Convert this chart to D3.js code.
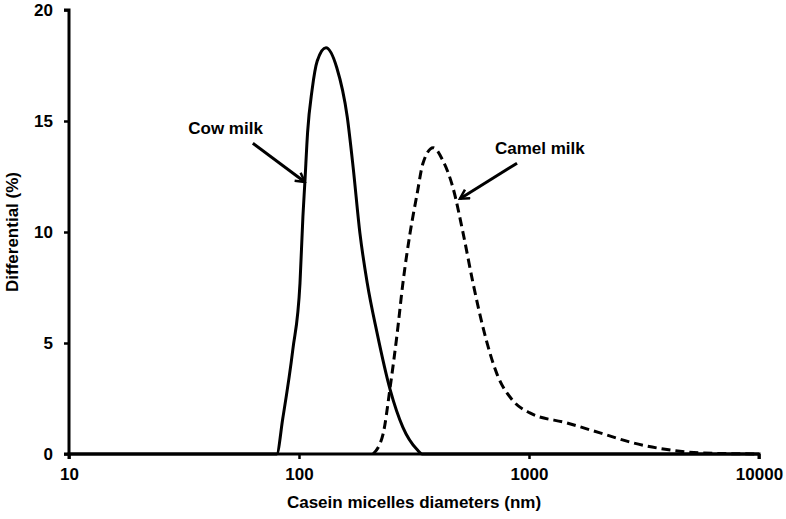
<!DOCTYPE html>
<html>
<head>
<meta charset="utf-8">
<script src="https://cdn.jsdelivr.net/npm/d3@7"></script>
<style>
  body { margin: 0; background: #fff; }
  text { font-family: "Liberation Sans", Arial, sans-serif; font-weight: bold; fill: #000; }
</style>
</head>
<body>
<svg id="chart" width="786" height="519"></svg>
<script>
// diameters (nm) and differential (%)
var cowSize  = [10, 80, 85, 94, 101, 104, 106, 109, 114, 120, 131, 146, 162, 172, 184, 198, 218, 249, 283, 326, 343, 10000];
var cowDiff  = [0, 0, 1.6, 4.7, 7.7, 10.7, 12.2, 14.5, 16.4, 17.7, 18.3, 17.4, 15.2, 12.9, 9.95, 7.7, 5.5, 2.9, 1.2, 0.2, 0, 0];

var camelSize = [210, 232, 249, 267, 283, 304, 326, 346, 383, 423, 467, 517, 571, 631, 726, 852, 1009, 1462, 2036, 2833, 3981, 5535, 9910];
var camelDiff = [0, 0.9, 3.0, 5.4, 7.7, 9.95, 11.7, 13.1, 13.8, 13.2, 12.0, 9.95, 7.7, 5.7, 3.6, 2.4, 1.85, 1.4, 0.95, 0.5, 0.2, 0.05, 0];

var xTicks = [10, 100, 1000, 10000];
var yTicks = [0, 5, 10, 15, 20];

var svg = d3.select('#chart');

var x = d3.scaleLog().domain([10, 10000]).range([69, 759]);
var y = d3.scaleLinear().domain([0, 20]).range([454, 10]);

var line = d3.line()
    .x(function(d) { return x(d[0]); })
    .y(function(d) { return y(d[1]); })
    .curve(d3.curveMonotoneX);

var cow = cowSize.map(function(s, i) { return [s, cowDiff[i]]; });
var camel = camelSize.map(function(s, i) { return [s, camelDiff[i]]; });

svg.append('path')
    .datum(cow)
    .attr('d', line)
    .attr('fill', 'none')
    .attr('stroke', '#000')
    .attr('stroke-width', 3);

svg.append('path')
    .datum(camel)
    .attr('d', line)
    .attr('fill', 'none')
    .attr('stroke', '#000')
    .attr('stroke-width', 3)
    .attr('stroke-dasharray', '9,5');

// axes
var xAxis = svg.append('g')
    .attr('transform', 'translate(0,' + y(0) + ')')
    .call(d3.axisBottom(x).tickValues(xTicks).tickFormat(d3.format('d')).tickSize(5).tickPadding(9));

var yAxis = svg.append('g')
    .attr('transform', 'translate(' + x(10) + ',0)')
    .call(d3.axisLeft(y).tickValues(yTicks).tickSize(5).tickPadding(11));

svg.selectAll('.domain').attr('stroke', '#000').attr('stroke-width', 3);
svg.selectAll('.tick line').attr('stroke', '#000').attr('stroke-width', 2.5);
svg.selectAll('.tick text').style('font-size', '17px').style('font-family', '"Liberation Sans", Arial, sans-serif').style('font-weight', 'bold');

xAxis.select('.domain').attr('d', 'M' + x(10) + ',5V0H' + x(10000) + 'V5');
yAxis.select('.domain').attr('d', 'M-5,' + y(20) + 'H0V' + y(0) + 'H-5');

svg.append('text')
    .attr('x', (x(10) + x(10000)) / 2)
    .attr('y', 508)
    .attr('text-anchor', 'middle')
    .style('font-size', '17px')
    .text('Casein micelles diameters (nm)');

svg.append('text')
    .attr('transform', 'translate(18,' + (y(0) + y(20)) / 2 + ') rotate(-90)')
    .attr('text-anchor', 'middle')
    .style('font-size', '17px')
    .text('Differential (%)');

// arrows
svg.append('defs').append('marker')
    .attr('id', 'arrow')
    .attr('viewBox', '0 0 12 12')
    .attr('refX', 10)
    .attr('refY', 6)
    .attr('markerWidth', 12)
    .attr('markerHeight', 12)
    .attr('markerUnits', 'userSpaceOnUse')
    .attr('orient', 'auto')
    .append('path')
    .attr('d', 'M1,1L10,6L1,11')
    .attr('fill', 'none')
    .attr('stroke', '#000')
    .attr('stroke-width', 2.5);

var labels = [
    {name: 'Cow milk', tx: 33, ty: 14.4, from: [63, 14.0], to: [106, 12.25]},
    {name: 'Camel milk', tx: 711, ty: 13.5, from: [887, 13.1], to: [501, 11.5]}
];

labels.forEach(function(l) {
    svg.append('line')
        .attr('x1', x(l.from[0])).attr('y1', y(l.from[1]))
        .attr('x2', x(l.to[0])).attr('y2', y(l.to[1]))
        .attr('stroke', '#000')
        .attr('stroke-width', 3)
        .attr('marker-end', 'url(#arrow)');
    svg.append('text')
        .attr('x', x(l.tx))
        .attr('y', y(l.ty))
        .style('font-size', '17px')
        .text(l.name);
});
</script>
</body>
</html>
